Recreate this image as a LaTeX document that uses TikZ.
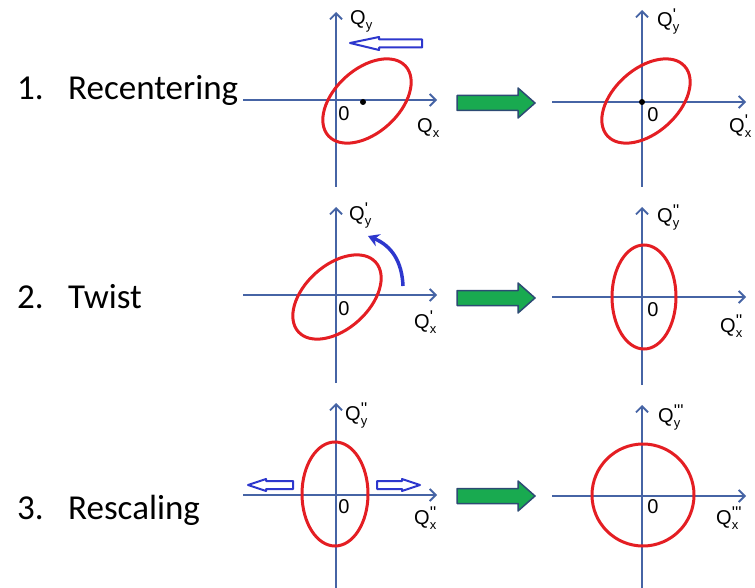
\documentclass[tikz,border=0pt]{standalone}
\usepackage{fontspec}
\setmainfont{Carlito}
\newfontfamily\labfont{Liberation Sans}
\usetikzlibrary{arrows.meta}
\definecolor{axisblue}{RGB}{70,100,165}
\definecolor{ellred}{RGB}{228,30,35}
\definecolor{arrblue}{RGB}{45,55,205}
\definecolor{arrgreen}{RGB}{25,170,80}
\definecolor{arrborder}{RGB}{45,75,115}
\newcommand{\pr}{\textquotesingle}
\newcommand{\ql}[2]{Q\makebox[0pt][l]{\raisebox{0.3em}{\fontsize{17}{17}\selectfont #2}}\raisebox{-0.25em}{\fontsize{13}{13}\selectfont #1}}
\begin{document}
\begin{tikzpicture}[x=1pt,y=-1pt,
  axis/.style={draw=axisblue, line width=1.8pt, -{Straight Barb[length=6pt,width=12pt]}},
  ell/.style={draw=ellred, line width=3pt},
  lab/.style={font=\labfont\fontsize{20}{20}\selectfont, anchor=west, inner sep=0pt},
  zero/.style={font=\labfont\fontsize{20}{20}\selectfont, inner sep=0pt},
  rowtxt/.style={font=\fontsize{35}{35}\selectfont, anchor=base west, inner sep=0pt},
  bigarrow/.style={fill=arrgreen, draw=arrborder, line width=1.5pt, line join=round},
  hollow/.style={draw=arrblue, fill=white, line width=2pt, line join=round},
  curv/.style={draw=arrblue, line width=3.5pt, -{Stealth[length=11pt,width=13pt]}},
  dot/.style={circle, fill=black, inner sep=0pt, minimum size=6pt}]
\useasboundingbox (0,0) rectangle (755,588);

% row texts
\node[rowtxt] (n1) at (17,100) {1.};
\node[rowtxt] (t1) at (68,100) {Recentering};
\node[rowtxt] (n2) at (17,308) {2.};
\node[rowtxt] (t2) at (68,308) {Twist};
\node[rowtxt] (n3) at (17,519) {3.};
\node[rowtxt] (t3) at (68,519) {Rescaling};

% ---------- Row 1 left ----------
\coordinate (a1lh0) at (243,100); \coordinate (a1lh1) at (437,100);
\coordinate (a1lv0) at (336,187); \coordinate (a1lv1) at (336,12);
\draw[axis] (a1lh0) -- (a1lh1);
\draw[axis] (a1lv0) -- (a1lv1);
\coordinate (e1l) at (367,101);
\draw[ell, rotate around={42:(e1l)}] (e1l) ellipse [x radius=52, y radius=32];
\node[dot] (d1l) at (363,102) {};
\node[lab] (qy1l) at (350,21) {\ql{y}{}};
\node[lab] (qx1l) at (417,128) {\ql{x}{}};
\node[zero] (z1l) at (344,114) {0};
\draw[hollow] (350,43) -- (379,37) -- (379,39.5) -- (422,39.5) -- (422,47.5) -- (379,47.5) -- (379,50) -- cycle;

% ---------- Row 1 right ----------
\coordinate (a1rh0) at (552,102); \coordinate (a1rh1) at (746,102);
\coordinate (a1rv0) at (642,187); \coordinate (a1rv1) at (642,10);
\draw[axis] (a1rh0) -- (a1rh1);
\draw[axis] (a1rv0) -- (a1rv1);
\coordinate (e1r) at (646,101);
\draw[ell, rotate around={42:(e1r)}] (e1r) ellipse [x radius=52, y radius=32];
\node[dot] (d1r) at (642,102) {};
\node[lab] (qy1r) at (657,22) {\ql{y}{\pr}};
\node[lab] (qx1r) at (729,126) {\ql{x}{\pr}};
\node[zero] (z1r) at (653,115) {0};

% ---------- Row 2 left ----------
\coordinate (a2lh0) at (243,295); \coordinate (a2lh1) at (437,295);
\coordinate (a2lv0) at (336,383); \coordinate (a2lv1) at (336,207);
\draw[axis] (a2lh0) -- (a2lh1);
\draw[axis] (a2lv0) -- (a2lv1);
\coordinate (e2l) at (337,297);
\draw[ell, rotate around={42:(e2l)}] (e2l) ellipse [x radius=52, y radius=32];
\node[lab] (qy2l) at (349,216) {\ql{y}{\pr}};
\node[lab] (qx2l) at (414,322) {\ql{x}{\pr}};
\node[zero] (z2l) at (344,309) {0};
\coordinate (c2s) at (403,286);
\coordinate (c2e) at (368,236);
\draw[curv] (c2s) .. controls (402,262) and (392,246) .. (c2e);

% ---------- Row 2 right ----------
\coordinate (a2rh0) at (552,297); \coordinate (a2rh1) at (746,297);
\coordinate (a2rv0) at (642,385); \coordinate (a2rv1) at (642,207);
\draw[axis] (a2rh0) -- (a2rh1);
\draw[axis] (a2rv0) -- (a2rv1);
\coordinate (e2r) at (644,297);
\draw[ell] (e2r) ellipse [x radius=32, y radius=52];
\node[lab] (qy2r) at (657,218) {\ql{y}{\pr\pr}};
\node[lab] (qx2r) at (720,326) {\ql{x}{\pr\pr}};
\node[zero] (z2r) at (653,310) {0};

% ---------- Row 3 left ----------
\coordinate (a3lh0) at (243,495); \coordinate (a3lh1) at (437,495);
\coordinate (a3lv0) at (336,588); \coordinate (a3lv1) at (336,403);
\draw[axis] (a3lh0) -- (a3lh1);
\draw[axis] (a3lv0) -- (a3lv1);
\coordinate (e3l) at (335,494);
\draw[ell] (e3l) ellipse [x radius=33, y radius=52];
\node[lab] (qy3l) at (345,415) {\ql{y}{\pr\pr}};
\node[lab] (qx3l) at (414,518) {\ql{x}{\pr\pr}};
\node[zero] (z3l) at (344,507) {0};
\draw[hollow] (248,485) -- (266,479) -- (266,481) -- (293,481) -- (293,489) -- (266,489) -- (266,491) -- cycle;
\draw[hollow] (420,485) -- (402,479) -- (402,481) -- (377,481) -- (377,489) -- (402,489) -- (402,491) -- cycle;

% ---------- Row 3 right ----------
\coordinate (a3rh0) at (552,496); \coordinate (a3rh1) at (746,496);
\coordinate (a3rv0) at (642,588); \coordinate (a3rv1) at (642,405);
\draw[axis] (a3rh0) -- (a3rh1);
\draw[axis] (a3rv0) -- (a3rv1);
\coordinate (e3r) at (643,495);
\draw[ell] (e3r) circle [radius=51];
\node[lab] (qy3r) at (658,417) {\ql{y}{\pr\pr\pr}};
\node[lab] (qx3r) at (716,518) {\ql{x}{\pr\pr\pr}};
\node[zero] (z3r) at (653,507) {0};

% ---------- green arrows ----------
\foreach \yy in {103,298,496}{
  \draw[bigarrow, shift={(0,\yy)}] (457,-7.5) -- (518,-7.5) -- (518,-15) -- (535,0) -- (518,15) -- (518,7.5) -- (457,7.5) -- cycle;
}
\end{tikzpicture}
\end{document}
